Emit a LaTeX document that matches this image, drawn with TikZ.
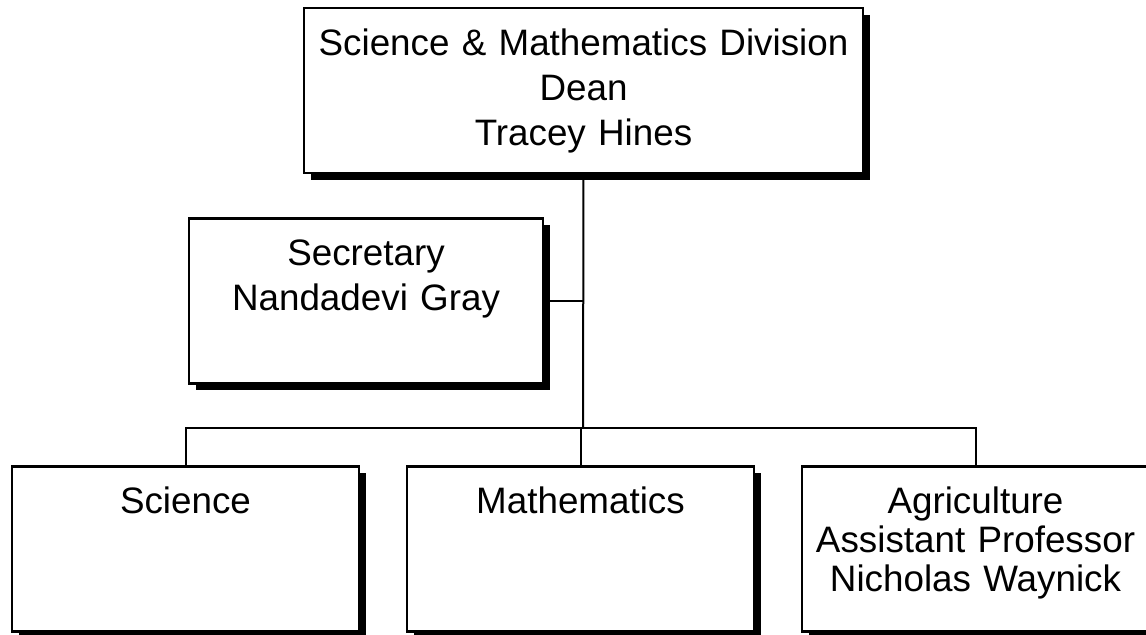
\documentclass[tikz,border=0pt]{standalone}
\usepackage{fontspec}
\setmainfont{Liberation Sans}
\usetikzlibrary{shadows}
\tikzset{
  unit/.style={draw, line width=1.3pt, fill=white, inner sep=0pt, outer sep=0pt,
    minimum width=#1, text width=#1, minimum height=82.5pt, align=center,
    text height=13pt, text depth=48.5pt, font=\fontsize{18.4pt}{22.5pt}\selectfont,
    drop shadow={shadow xshift=3.4pt, shadow yshift=-3.4pt, fill=black, opacity=1}},
  link/.style={line width=1pt},
}

\begin{document}
\begin{tikzpicture}[x=0.5pt, y=-0.5pt]

  \newcommand\LowY{549};
  \newcommand\BusY{428};

  %% <spacing>
  \useasboundingbox (0, 0) rectangle (1146, 634);
  % </spacing>

  \node[unit=279.5pt] (dean) at (583.5, 90.5) {Science \& Mathematics Division\\Dean\\Tracey Hines};
  \node[unit=177pt]   (sec)  at (366, 301) {Secretary\\Nandadevi Gray};

  \node[unit=173.5pt] (sci)  at (185.5, \LowY) {Science};
  \node[unit=173.5pt] (math) at (580.5, \LowY) {Mathematics};
  \node[unit=173.5pt, font=\fontsize{18.4pt}{19.5pt}\selectfont] (agri) at (975.5, \LowY)
    {Agriculture\\Assistant Professor\\Nicholas Waynick};

  \coordinate (bus) at (583, \BusY);

  \draw[link] (dean.south) -- (bus); %% dean->bus
  \draw[link] (sec.east) -- (sec.east -| bus); %% sec->dean
  \draw[link] (sci.north) |- (bus) -| (agri.north); % bus->sci, agri
  \draw[link] (math.north) -- (math.north |- bus); % bus->math

\end{tikzpicture}
\end{document}
